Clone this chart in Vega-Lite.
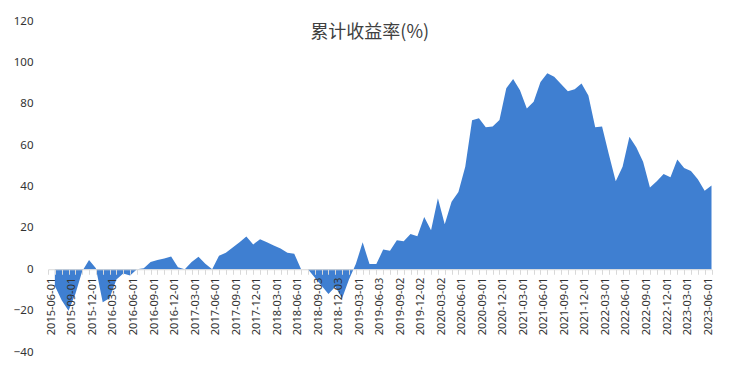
{
  "$schema": "https://vega.github.io/schema/vega-lite/v6.json",
  "width": 663.5,
  "height": 331,
  "autosize": {"type": "none"},
  "padding": {"left": 48, "top": 21, "right": 28.5, "bottom": 22},
  "background": "white",
  "title": {"text": "累计收益率(%)", "font": "Noto Sans CJK SC", "fontSize": 18, "fontWeight": "normal", "color": "#404040", "anchor": "middle", "frame": "group", "baseline": "middle", "offset": 0, "dy": 36, "dx": -10},
  "config": {"view": {"stroke": null}},
  "data": {"values": [
    {"date": "2015-06-01", "value": -8},
    {"date": "2015-07-01", "value": -15},
    {"date": "2015-08-03", "value": -20},
    {"date": "2015-09-01", "value": -12},
    {"date": "2015-10-08", "value": -1},
    {"date": "2015-11-02", "value": 4.5},
    {"date": "2015-12-01", "value": 0.5},
    {"date": "2016-01-04", "value": -16},
    {"date": "2016-02-01", "value": -14},
    {"date": "2016-03-01", "value": -5},
    {"date": "2016-04-01", "value": -2},
    {"date": "2016-05-03", "value": -3},
    {"date": "2016-06-01", "value": 0},
    {"date": "2016-07-01", "value": 0.5},
    {"date": "2016-08-01", "value": 3.5},
    {"date": "2016-09-01", "value": 4.5},
    {"date": "2016-10-10", "value": 5.2},
    {"date": "2016-11-01", "value": 6.2},
    {"date": "2016-12-01", "value": 1},
    {"date": "2017-01-03", "value": 0},
    {"date": "2017-02-03", "value": 3.5},
    {"date": "2017-03-01", "value": 6},
    {"date": "2017-04-05", "value": 2.7},
    {"date": "2017-05-02", "value": 0},
    {"date": "2017-06-01", "value": 6.5},
    {"date": "2017-07-03", "value": 8},
    {"date": "2017-08-01", "value": 10.5},
    {"date": "2017-09-01", "value": 13},
    {"date": "2017-10-09", "value": 15.8},
    {"date": "2017-11-01", "value": 12},
    {"date": "2017-12-01", "value": 14.5},
    {"date": "2018-01-02", "value": 13},
    {"date": "2018-02-01", "value": 11.5},
    {"date": "2018-03-01", "value": 10},
    {"date": "2018-04-02", "value": 8},
    {"date": "2018-05-02", "value": 7.5},
    {"date": "2018-06-01", "value": 0},
    {"date": "2018-07-02", "value": 0},
    {"date": "2018-08-01", "value": -4},
    {"date": "2018-09-03", "value": -8},
    {"date": "2018-10-08", "value": -12},
    {"date": "2018-11-01", "value": -8.5},
    {"date": "2018-12-03", "value": -14},
    {"date": "2019-01-02", "value": -5},
    {"date": "2019-02-01", "value": 2.5},
    {"date": "2019-03-01", "value": 13},
    {"date": "2019-04-01", "value": 2.5},
    {"date": "2019-05-06", "value": 2.5},
    {"date": "2019-06-03", "value": 9.5},
    {"date": "2019-07-01", "value": 9},
    {"date": "2019-08-01", "value": 14},
    {"date": "2019-09-02", "value": 13.5},
    {"date": "2019-10-08", "value": 17},
    {"date": "2019-11-01", "value": 16},
    {"date": "2019-12-02", "value": 25.3},
    {"date": "2020-01-02", "value": 18.8},
    {"date": "2020-02-03", "value": 34.3},
    {"date": "2020-03-02", "value": 21.8},
    {"date": "2020-04-01", "value": 32.6},
    {"date": "2020-05-06", "value": 37.4},
    {"date": "2020-06-01", "value": 49.5},
    {"date": "2020-07-01", "value": 72},
    {"date": "2020-08-03", "value": 73},
    {"date": "2020-09-01", "value": 68.6},
    {"date": "2020-10-09", "value": 69},
    {"date": "2020-11-02", "value": 72.1},
    {"date": "2020-12-01", "value": 87.5},
    {"date": "2021-01-04", "value": 92},
    {"date": "2021-02-01", "value": 86.5},
    {"date": "2021-03-01", "value": 77.7},
    {"date": "2021-04-01", "value": 81},
    {"date": "2021-05-06", "value": 90.5},
    {"date": "2021-06-01", "value": 94.7},
    {"date": "2021-07-01", "value": 93},
    {"date": "2021-08-02", "value": 89.5},
    {"date": "2021-09-01", "value": 86},
    {"date": "2021-10-08", "value": 87},
    {"date": "2021-11-01", "value": 89.8},
    {"date": "2021-12-01", "value": 84},
    {"date": "2022-01-04", "value": 68.6},
    {"date": "2022-02-07", "value": 69},
    {"date": "2022-03-01", "value": 55.5},
    {"date": "2022-04-01", "value": 42.5},
    {"date": "2022-05-05", "value": 49.5},
    {"date": "2022-06-01", "value": 64},
    {"date": "2022-07-01", "value": 59},
    {"date": "2022-08-01", "value": 52},
    {"date": "2022-09-01", "value": 39.5},
    {"date": "2022-10-10", "value": 42.5},
    {"date": "2022-11-01", "value": 46},
    {"date": "2022-12-01", "value": 44.5},
    {"date": "2023-01-03", "value": 53},
    {"date": "2023-02-01", "value": 49},
    {"date": "2023-03-01", "value": 47.5},
    {"date": "2023-04-03", "value": 43.5},
    {"date": "2023-05-04", "value": 38},
    {"date": "2023-06-01", "value": 40.5}
  ]},
  "mark": {"type": "area", "color": "#3f7fd1"},
  "encoding": {
    "x": {
      "field": "date", "type": "nominal", "sort": null, "bandPosition": 1,
      "scale": {"type": "band", "paddingInner": 0, "paddingOuter": 0},
      "axis": {
        "title": null, "labelAngle": -90, "labelOverlap": false,
        "labelExpr": "isString(datum.value) && indexof(['03','06','09','12'], substring(datum.value, 5, 7)) >= 0 ? datum.label : ''",
        "tickBand": "extent",
        "domainColor": "#d9d9d9", "tickColor": "#d9d9d9", "tickSize": 5,
        "labelPadding": 3, "labelFont": "Noto Sans", "labelFontSize": 11, "labelColor": "#333333",
        "offset": -82.75, "zindex": 1
      }
    },
    "y": {
      "field": "value", "type": "quantitative", "stack": null,
      "scale": {"domain": [-40, 120], "nice": false},
      "axis": {
        "title": null, "values": [-40, -20, 0, 20, 40, 60, 80, 100, 120], "grid": false,
        "domain": false, "ticks": false, "labelPadding": 15,
        "labelFont": "Noto Sans", "labelFontSize": 11.5, "labelColor": "#333333"
      }
    }
  }
}
